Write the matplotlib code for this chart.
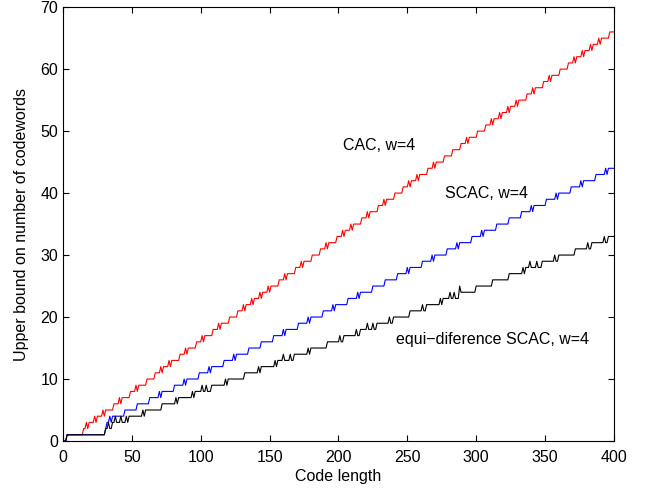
"""
Upper bounds on the number of codewords versus code length (w=4).
Each curve is stored as the code lengths where the bound steps up by one,
plus the lengths where it briefly sits one higher (the small "N" wiggles).
"""

import matplotlib.pyplot as plt
import numpy as np


plt.rcParams["font.family"] = ["Liberation Sans", "DejaVu Sans"]

CODE_LENGTHS = np.arange(1, 401)

# CAC, w=4 (red)
CAC_STEPS = [
    3, 15, 19, 25, 31, 37, 43, 49, 55, 61, 67, 73, 79, 85, 91, 97, 103, 109,
    115, 121, 127, 133, 139, 145, 151, 157, 163, 169, 175, 181, 187, 193, 199,
    205, 211, 217, 223, 229, 235, 241, 247, 253, 259, 265, 271, 277, 283, 289,
    295, 301, 307, 313, 319, 325, 331, 337, 343, 349, 355, 361, 367, 373, 379,
    385, 391, 397,
]
CAC_SPIKES = [
    17, 23, 29, 41, 53, 71, 77, 89, 101, 113, 131, 137, 143, 149, 161, 173,
    191, 203, 209, 221, 233, 251, 257, 269, 293, 311, 317, 323, 329, 341, 353,
    371, 377, 383, 389,
]

# SCAC, w=4 (blue)
SCAC_STEPS = [
    3, 31, 32, 36, 45, 54, 63, 72, 81, 90, 99, 108, 117, 126, 135, 144, 153,
    162, 171, 180, 189, 198, 207, 216, 225, 234, 243, 252, 261, 270, 279, 288,
    297, 306, 315, 324, 333, 342, 351, 360, 369, 378, 387, 396,
]
SCAC_SPIKES = [
    34, 70, 88, 106, 124, 160, 178, 196, 214, 250, 268, 286, 304, 340, 358,
    376, 394,
]

# equi-difference SCAC, w=4 (black)
EQUI_STEPS = [
    3, 31, 36, 48, 60, 72, 84, 96, 108, 120, 132, 144, 156, 168, 180, 192, 204,
    216, 228, 240, 252, 264, 276, 288, 300, 312, 324, 336, 348, 360, 372, 384,
    396,
]
EQUI_SPIKES = [
    33, 38, 42, 46, 58, 82, 94, 101, 104, 118, 142, 154, 160, 165, 178, 201,
    213, 221, 225, 237, 261, 274, 281, 284, 288, 334, 339, 344, 357, 381, 393,
]


def build_bound(steps, spikes):
    """Count the steps reached at each length and add the one-off spikes."""
    level = np.searchsorted(steps, CODE_LENGTHS, side="right")
    level = level + np.isin(CODE_LENGTHS, spikes)
    return level


def main():
    fig = plt.figure(figsize=(6.52, 4.93), dpi=100)
    ax = fig.add_axes([0.0966, 0.1055, 0.845, 0.880])

    ax.plot(CODE_LENGTHS, build_bound(CAC_STEPS, CAC_SPIKES), color="red", linewidth=0.8)
    ax.plot(CODE_LENGTHS, build_bound(SCAC_STEPS, SCAC_SPIKES), color="blue", linewidth=0.8)
    ax.plot(CODE_LENGTHS, build_bound(EQUI_STEPS, EQUI_SPIKES), color="black", linewidth=0.8)

    ax.text(203, 47.7, "CAC, w=4", fontsize=11.5, va="center")
    ax.text(277, 40.0, "SCAC, w=4", fontsize=11.5, va="center")
    ax.text(242, 16.3, "equi\u2212diference SCAC, w=4", fontsize=11.5, va="center")

    ax.set_xlim(0, 400)
    ax.set_ylim(0, 70)
    ax.set_xticks(np.arange(0, 401, 50))
    ax.set_yticks(np.arange(0, 71, 10))
    ax.tick_params(direction="in", top=True, right=True, labelsize=11.5, length=4)
    ax.tick_params(axis="x", pad=6.5)
    ax.set_xlabel("Code length", fontsize=11.5, labelpad=3)
    ax.set_ylabel("Upper bound on number of codewords", fontsize=11.5, labelpad=8)

    fig.savefig("out.png", dpi=100)
    plt.close(fig)


if __name__ == "__main__":
    main()
